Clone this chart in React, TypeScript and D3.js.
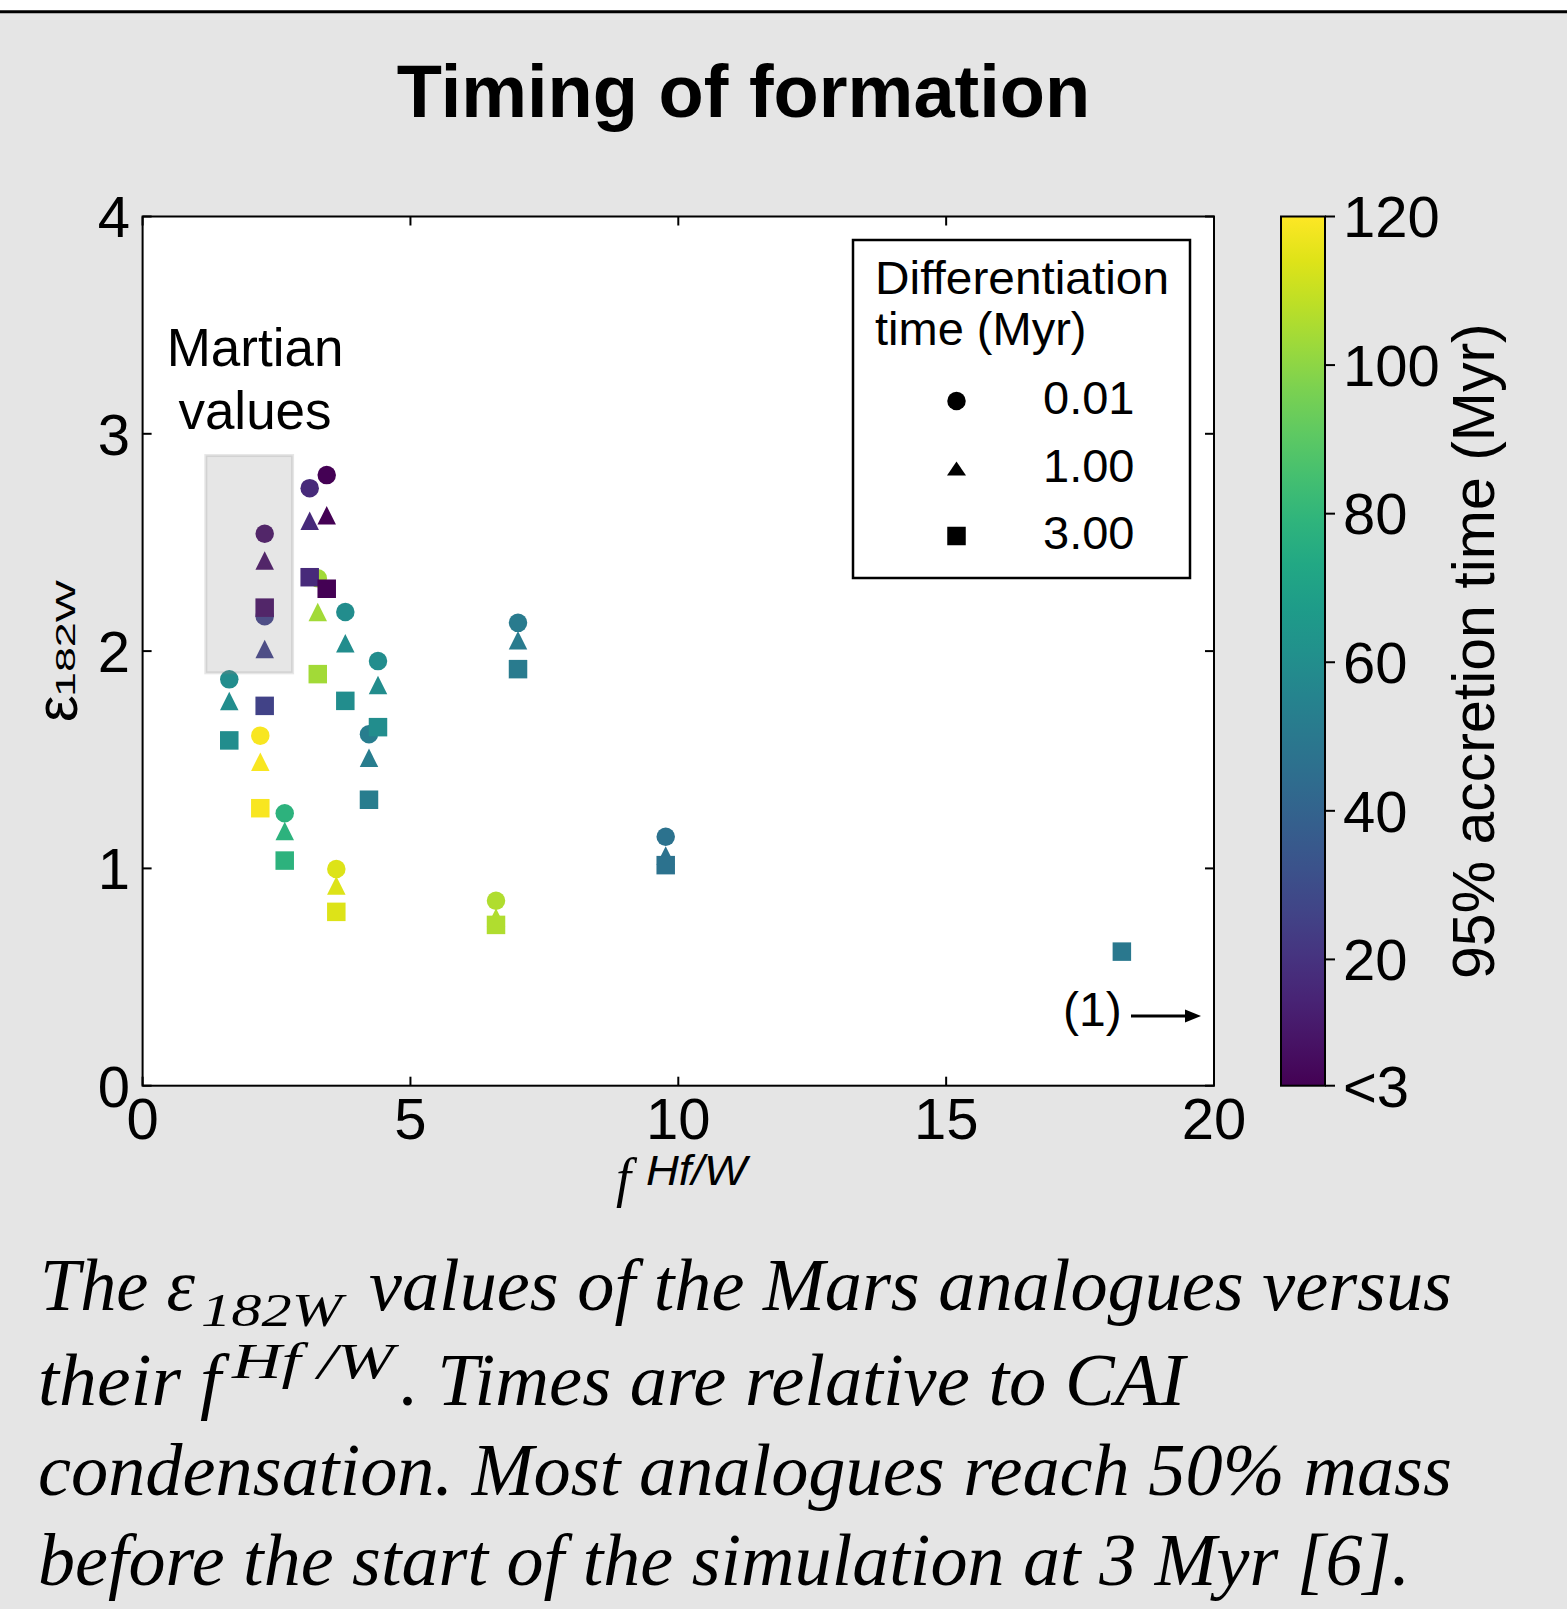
import React from 'react';
import * as d3 from 'd3';

// ---------- data ----------
const fHfW = [1.618, 2.279, 2.279, 2.197, 2.653, 3.119, 3.437, 3.27, 3.784, 4.394, 4.226, 3.616, 6.597, 7.008, 9.765, 18.28];
const accretionTime = [60, 8, 26, 119, 78, 17, 3, 104, 60, 60, 52, 114, 106, 51, 47, 50];
const epsDiff001: (number | null)[] = [1.87, 2.54, 2.16, 1.611, 1.254, 2.75, 2.81, 2.335, 2.18, 1.954, 1.617, 0.997, 0.851, 2.13, 1.146, null];
const epsDiff100: (number | null)[] = [1.77, 2.417, 2.01, 1.491, 1.172, 2.6, 2.625, 2.18, 2.036, 1.844, 1.509, 0.921, 0.774, 2.05, 1.059, null];
const epsDiff300: (number | null)[] = [1.589, 2.2, 1.748, 1.277, 1.036, 2.34, 2.287, 1.894, 1.771, 1.65, 1.316, 0.8, 0.74, 1.917, 1.015, 0.617];

const xTicks = [0, 5, 10, 15, 20];
const yTicks = [0, 1, 2, 3, 4];
const cbTicks = [3, 20, 40, 60, 80, 100, 120];
const cbTickLabels = ['<3', '20', '40', '60', '80', '100', '120'];
const legendLabels = ['0.01', '1.00', '3.00'];
const legendShapes = ['circle', 'triangle', 'square'];
const martianF = [1.18, 2.8];
const martianEps = [1.9, 2.9];

const W = 1567;
const H = 1609;
const SANS = 'Liberation Sans, Arial, Helvetica, sans-serif';
const SERIF = 'Liberation Serif, Times New Roman, serif';

const plot = { left: 142.6, right: 1214, top: 216.5, bottom: 1085.7 };
const cb = { left: 1281, right: 1325 };

const x = d3.scaleLinear().domain([0, 20]).range([plot.left, plot.right]);
const y = d3.scaleLinear().domain([0, 4]).range([plot.bottom, plot.top]);
const cy = d3.scaleLinear().domain([3, 120]).range([plot.bottom, plot.top]);
const color = d3.scaleSequential(d3.interpolateViridis).domain([3, 120]);

const MS = 18.5;

function shapePath(shape: string, s: number) {
  const h = s / 2;
  if (shape === 'circle') {
    return `M${h},0A${h},${h} 0 1,1 ${-h},0A${h},${h} 0 1,1 ${h},0Z`;
  }
  if (shape === 'triangle') {
    return `M0,${-h}L${h},${h}L${-h},${h}Z`;
  }
  return `M${-h},${-h}H${h}V${h}H${-h}Z`;
}

export default function App() {
  const series: { shape: string; vals: (number | null)[] }[] = [
    { shape: 'circle', vals: epsDiff001 },
    { shape: 'triangle', vals: epsDiff100 },
    { shape: 'square', vals: epsDiff300 },
  ];
  const gradStops = d3.range(0, 1.0001, 0.05);
  const TL = 9;

  return (
    <svg
      width={W}
      height={H}
      viewBox={`0 0 ${W} ${H}`}
      style={{ position: 'absolute', left: 0, top: 0, display: 'block' }}
    >
      <defs>
        <linearGradient id="viridisGrad" x1="0" y1="1" x2="0" y2="0">
          {gradStops.map((t, i) => (
            <stop key={i} offset={t} stopColor={d3.interpolateViridis(t)} />
          ))}
        </linearGradient>
      </defs>
      <rect x={0} y={0} width={W} height={H} fill="#ffffff" />
      <rect x={0} y={12} width={W} height={H - 12} fill="#e5e5e5" />
      <line x1={0} x2={W} y1={11.8} y2={11.8} stroke="#000" strokeWidth={3} />

      {/* title */}
      <text x={743.5} y={116.7} fontFamily={SANS} fontWeight="bold" fontSize={74} textAnchor="middle" fill="#000">
        Timing of formation
      </text>

      {/* plot area */}
      <rect x={plot.left} y={plot.top} width={plot.right - plot.left} height={plot.bottom - plot.top} fill="#fff" />

      {/* points */}
      {series.map((s) =>
        s.vals.map((v, i) =>
          v === null ? null : (
            <path
              key={s.shape + i}
              d={shapePath(s.shape, MS)}
              transform={`translate(${x(fHfW[i])},${y(v)})`}
              fill={color(accretionTime[i])}
            />
          )
        )
      )}

      {/* Martian values box */}
      <rect
        x={x(martianF[0])}
        y={y(martianEps[1])}
        width={x(martianF[1]) - x(martianF[0])}
        height={y(martianEps[0]) - y(martianEps[1])}
        fill="#808080"
        fillOpacity={0.2}
        stroke="#808080"
        strokeOpacity={0.2}
        strokeWidth={3}
      />
      <text x={255} y={366} fontFamily={SANS} fontSize={53} textAnchor="middle">Martian</text>
      <text x={255} y={429} fontFamily={SANS} fontSize={53} textAnchor="middle">values</text>

      {/* (1) arrow */}
      <text x={1063} y={1026} fontFamily={SANS} fontSize={48}>(1)</text>
      <line x1={1131} x2={1188} y1={1016} y2={1016} stroke="#000" strokeWidth={3} />
      <path d="M1201,1016L1185,1009.5L1185,1022.5Z" fill="#000" />

      {/* legend */}
      <rect x={853} y={240} width={337} height={338} fill="#fff" stroke="#000" strokeWidth={2.5} />
      <text x={875} y={294} fontFamily={SANS} fontSize={47} textLength={294} lengthAdjust="spacingAndGlyphs">Differentiation</text>
      <text x={875} y={345} fontFamily={SANS} fontSize={47}>time (Myr)</text>
      {legendLabels.map((lab, i) => {
        const yy = 401 + i * 67.5;
        return (
          <g key={lab}>
            {legendShapes[i] === 'triangle' ? (
              <path d={`M0,-7L9.5,7L-9.5,7Z`} transform={`translate(956.5,${yy})`} fill="#000" />
            ) : (
              <path d={shapePath(legendShapes[i], 18.5)} transform={`translate(956.5,${yy})`} fill="#000" />
            )}
            <text x={1043} y={yy + 13} fontFamily={SANS} fontSize={47}>{lab}</text>
          </g>
        );
      })}

      {/* axes frame */}
      <rect
        x={plot.left}
        y={plot.top}
        width={plot.right - plot.left}
        height={plot.bottom - plot.top}
        fill="none"
        stroke="#000"
        strokeWidth={2}
      />
      {/* x ticks */}
      {xTicks.map((t) => (
        <g key={'xt' + t}>
          <line x1={x(t)} x2={x(t)} y1={plot.bottom} y2={plot.bottom - TL} stroke="#000" strokeWidth={2} />
          <line x1={x(t)} x2={x(t)} y1={plot.top} y2={plot.top + TL} stroke="#000" strokeWidth={2} />
          <text x={x(t)} y={1138.5} fontFamily={SANS} fontSize={58} textAnchor="middle">{t}</text>
        </g>
      ))}
      {/* y ticks */}
      {yTicks.map((t) => (
        <g key={'yt' + t}>
          <line x1={plot.left} x2={plot.left + TL} y1={y(t)} y2={y(t)} stroke="#000" strokeWidth={2} />
          <line x1={plot.right} x2={plot.right - TL} y1={y(t)} y2={y(t)} stroke="#000" strokeWidth={2} />
          <text x={130} y={y(t) + 20.8} fontFamily={SANS} fontSize={58} textAnchor="end">{t}</text>
        </g>
      ))}

      {/* x label */}
      <text x={616} y={1196} fontFamily={SERIF} fontStyle="italic" fontSize={54}>f</text>
      <text x={646} y={1185} fontFamily={SANS} fontStyle="italic" fontSize={42} textLength={101} lengthAdjust="spacingAndGlyphs">Hf/W</text>

      {/* y label */}
      <g transform="translate(77,722) rotate(-90)">
        <text x={0} y={0} fontFamily={SANS} fontSize={60}>ε</text>
        <text x={25} y={-2} fontFamily={SANS} fontSize={28} textLength={117} lengthAdjust="spacingAndGlyphs">182W</text>
      </g>

      {/* colorbar */}
      <rect x={cb.left} y={plot.top} width={cb.right - cb.left} height={plot.bottom - plot.top} fill="url(#viridisGrad)" stroke="#000" strokeWidth={2} />
      {cbTicks.map((t, i) => (
        <g key={'cb' + t}>
          <line x1={cb.right} x2={cb.right + 10} y1={cy(t)} y2={cy(t)} stroke="#000" strokeWidth={2} />
          <text x={1343} y={cy(t) + 20.8} fontFamily={SANS} fontSize={58}>{cbTickLabels[i]}</text>
        </g>
      ))}
      <text
        transform={`translate(1494,${(plot.top + plot.bottom) / 2}) rotate(-90)`}
        fontFamily={SANS}
        fontSize={59}
        textAnchor="middle"
      >
        95% accretion time (Myr)
      </text>

      {/* caption */}
      <g fontFamily={SERIF} fontStyle="italic" fontSize={73} fill="#000">
        <text x={40} y={1310} textLength={155} lengthAdjust="spacingAndGlyphs">The ε</text>
        <text x={201} y={1326} fontSize={46} textLength={141} lengthAdjust="spacingAndGlyphs">182W</text>
        <text x={369} y={1310} textLength={1083} lengthAdjust="spacingAndGlyphs">values of the Mars analogues versus</text>

        <text x={38} y={1405} textLength={183} lengthAdjust="spacingAndGlyphs">their f</text>
        <text x={232} y={1378} fontSize={50} textLength={162} lengthAdjust="spacingAndGlyphs">Hf /W</text>
        <text x={400} y={1405} textLength={785} lengthAdjust="spacingAndGlyphs">. Times are relative to CAI</text>

        <text x={38} y={1495} textLength={1414} lengthAdjust="spacingAndGlyphs">
          condensation. Most analogues reach 50% mass
        </text>
        <text x={38} y={1585} textLength={1372} lengthAdjust="spacingAndGlyphs">
          before the start of the simulation at 3 Myr [6].
        </text>
      </g>
    </svg>
  );
}
